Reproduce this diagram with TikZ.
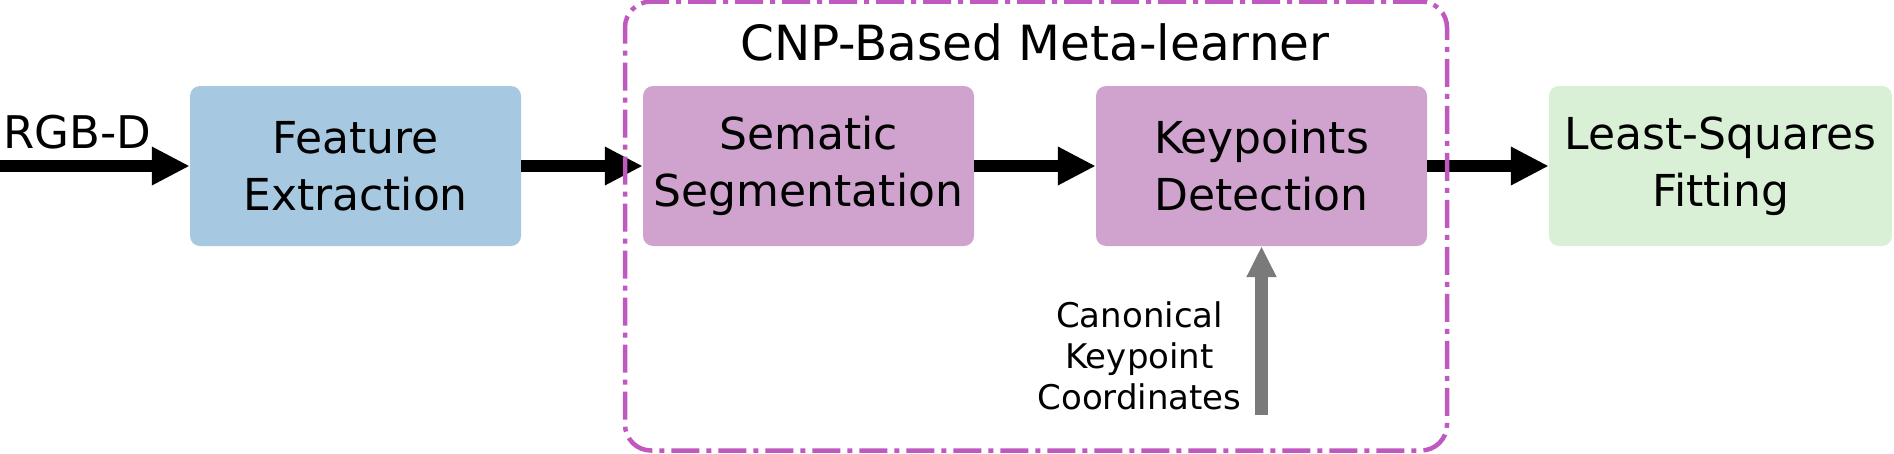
\documentclass[tikz,border=0pt]{standalone}
\usepackage{fontspec}
\setmainfont{DejaVu Sans}
\usetikzlibrary{arrows.meta}
\definecolor{fblue}{RGB}{166,200,224}
\definecolor{fpurple}{RGB}{208,163,207}
\definecolor{fgreen}{RGB}{218,240,214}
\definecolor{fborder}{RGB}{191,88,191}
\definecolor{fgray}{RGB}{122,122,122}
\tikzset{
  blk/.style={rounded corners=10pt, inner sep=0pt, minimum width=331pt, minimum height=160pt,
    align=center, font=\fontsize{44}{57}\selectfont},
  flow/.style={line width=12pt, -{Triangle[length=38pt,width=36pt]}},
  gflow/.style={line width=13pt, fgray, -{Triangle[length=31pt,width=28pt]}},
  meta/.style={draw=fborder, line width=4.5pt, rounded corners=26pt,
    dash pattern=on 28pt off 7pt on 5pt off 7pt},
}
\begin{document}
\begin{tikzpicture}[x=1pt,y=1pt]
\useasboundingbox (0,0) rectangle (1894,-453);
\node[blk, fill=fblue] (fe) at (355.5,-166) {Feature\\Extraction};
\node[blk, fill=fpurple] (ss) at (808.5,-166) {Sematic\\Segmentation};
\node[blk, fill=fpurple] (kd) at (1261.5,-166) {Keypoints\\Detection};
\node[blk, fill=fgreen, minimum width=343pt] (ls) at (1720.5,-166) {Least-Squares\\Fitting};
\node[font=\fontsize{45}{54}\selectfont, inner sep=0pt, anchor=base] (rgbd) at (77,-148) {RGB-D};
\node[font=\fontsize{48.5}{58}\selectfont, inner sep=0pt, anchor=base] (title) at (1035,-60) {CNP-Based Meta-learner};
\node[font=\fontsize{34}{41}\selectfont, align=center, inner sep=0pt] (can) at (1139.5,-356) {Canonical\\Keypoint\\Coordinates};
\coordinate (in) at (0,-166);
\coordinate (gsrc) at (1261.5,-415);
\draw[flow] (in) -- (fe.west);
\draw[flow] (fe.east) -- (ss.west);
\draw[flow] (ss.east) -- (kd.west);
\draw[flow] (kd.east) -- (ls.west);
\draw[gflow] (gsrc) -- (kd.south);
\node[meta, inner sep=0pt, minimum width=822pt, minimum height=449pt] (box) at (1036,-226) {};
\end{tikzpicture}
\end{document}
